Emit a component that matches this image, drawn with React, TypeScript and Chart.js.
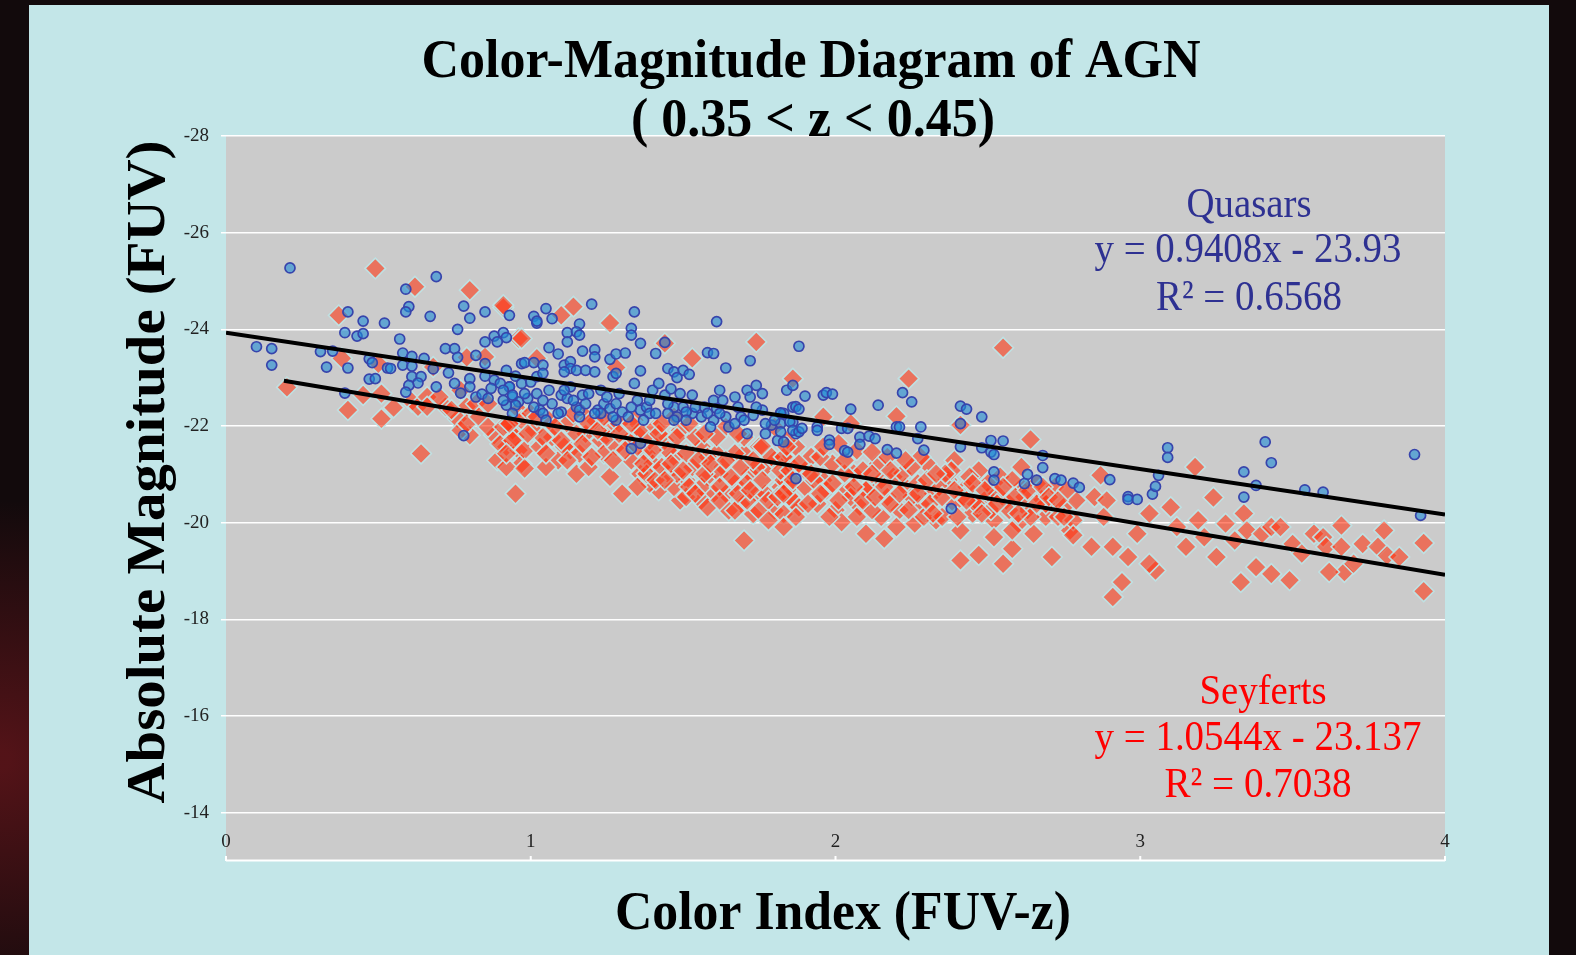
import React, { useEffect, useRef } from 'react';
import { Chart, registerables } from 'chart.js';

Chart.register(...registerables);

const W = 1576;
const H = 955;

const TITLE_LINES = ['Color-Magnitude Diagram of AGN', '( 0.35 < z < 0.45)'];
const X_TITLE = 'Color Index (FUV-z)';
const Y_TITLE = 'Absolute Magnitude (FUV)';
const X_TICKS = [0, 1, 2, 3, 4];
const Y_TICKS = [-28, -26, -24, -22, -20, -18, -16, -14];

const QUASAR_LABELS = ['Quasars', 'y = 0.9408x - 23.93', 'R\u00B2 = 0.6568'];
const SEYFERT_LABELS = ['Seyferts', 'y = 1.0544x - 23.137', 'R\u00B2 = 0.7038'];

const QUASAR_FIT = { slope: 0.9408, intercept: -23.93, xFrom: 0, xTo: 4 };
const SEYFERT_FIT = { slope: 1.0544, intercept: -23.137, xFrom: 0.19, xTo: 4 };

const QUASARS: [number, number][] = [
  [0.21, -25.27], [0.69, -25.09], [0.59, -24.83], [0.60, -24.47], [0.59, -24.36], [0.67, -24.27],
  [0.78, -24.48], [0.80, -24.23], [0.85, -24.36], [0.93, -24.29], [0.40, -24.36], [0.45, -24.17],
  [0.52, -24.13], [0.39, -23.93], [0.43, -23.86], [0.45, -23.91], [0.57, -23.80], [0.76, -24.00],
  [0.85, -23.74], [0.88, -23.86], [0.91, -23.93], [0.92, -23.83], [0.89, -23.74], [0.10, -23.64],
  [0.15, -23.60], [0.15, -23.26], [0.31, -23.54], [0.35, -23.55], [0.33, -23.22], [0.40, -23.20],
  [0.47, -23.39], [0.48, -23.31], [0.53, -23.20], [0.54, -23.19], [0.47, -22.97], [0.49, -22.98],
  [0.39, -22.68], [0.58, -23.51], [0.61, -23.44], [0.58, -23.26], [0.61, -23.24], [0.65, -23.40],
  [0.68, -23.18], [0.61, -23.02], [0.64, -23.02], [0.63, -22.89], [0.60, -22.84], [0.59, -22.70],
  [0.69, -22.81], [0.72, -23.60], [0.75, -23.60], [0.76, -23.42], [0.73, -23.10], [0.75, -22.88],
  [0.77, -22.68], [0.82, -23.46], [0.85, -23.29], [0.80, -22.98], [0.80, -22.81], [0.82, -22.60],
  [0.84, -22.66], [0.86, -22.57], [0.85, -23.03], [0.88, -22.95], [0.90, -22.88], [0.87, -22.78],
  [0.93, -22.81], [0.94, -22.60], [0.96, -22.50], [0.97, -23.29], [0.95, -23.03], [0.78, -21.80],
  [1.05, -24.43], [1.01, -24.27], [1.02, -24.13], [1.02, -24.17], [1.07, -24.22], [1.16, -24.11],
  [1.20, -24.52], [1.34, -24.36], [1.61, -24.16], [1.12, -23.93], [1.15, -23.95], [1.16, -23.88],
  [1.12, -23.74], [1.33, -24.02], [1.33, -23.88], [1.36, -23.71], [1.06, -23.62], [1.09, -23.49],
  [1.17, -23.55], [1.21, -23.58], [1.21, -23.43], [1.26, -23.38], [1.28, -23.49], [1.31, -23.51],
  [1.41, -23.50], [1.44, -23.73], [1.58, -23.52], [1.60, -23.50], [1.72, -23.35], [1.64, -23.20],
  [1.88, -23.65], [0.98, -23.31], [1.01, -23.31], [1.04, -23.26], [1.11, -23.26], [1.13, -23.33],
  [1.13, -23.19], [1.15, -23.15], [1.18, -23.15], [1.21, -23.12], [1.27, -23.02], [1.28, -23.09],
  [1.36, -23.14], [1.45, -23.19], [1.47, -23.12], [1.50, -23.15], [1.52, -23.07], [1.48, -23.00],
  [0.92, -23.15], [0.93, -22.81], [0.94, -22.64], [0.91, -22.74], [0.97, -22.88], [1.00, -22.91],
  [1.02, -23.02], [1.04, -23.09], [1.11, -23.12], [0.95, -22.43], [0.99, -22.57], [1.02, -22.67],
  [1.03, -22.33], [1.06, -22.74], [1.07, -22.46], [1.10, -22.64], [1.12, -22.57], [1.13, -22.81],
  [1.15, -22.39], [1.17, -22.64], [1.19, -22.67], [1.23, -22.74], [1.22, -22.33], [1.24, -22.46],
  [1.26, -22.36], [1.28, -22.46], [1.30, -22.29], [1.32, -22.19], [1.34, -22.88], [1.35, -22.53],
  [1.36, -22.33], [1.38, -22.39], [1.40, -22.74], [1.42, -22.88], [1.44, -22.64], [1.46, -22.77],
  [1.47, -22.39], [1.48, -22.19], [1.50, -22.39], [1.53, -22.64], [1.53, -22.26], [1.56, -22.19],
  [1.57, -22.39], [1.60, -22.53], [1.61, -22.36], [1.62, -22.74], [1.63, -22.53], [1.64, -22.19],
  [1.65, -21.98], [1.68, -22.39], [1.69, -22.19], [1.71, -22.74], [1.72, -22.60], [1.73, -22.22],
  [1.74, -22.84], [1.76, -22.67], [1.76, -22.33], [1.77, -21.84], [1.79, -22.02], [1.81, -21.70],
  [1.82, -22.26], [1.84, -22.74], [1.86, -22.08], [1.86, -22.39], [1.87, -21.84], [1.33, -21.53],
  [1.36, -21.64], [1.87, -20.91], [0.92, -22.43], [1.04, -22.26], [1.10, -22.29], [1.16, -22.33],
  [1.23, -22.26], [1.28, -22.12], [1.39, -22.26], [1.45, -22.26], [1.51, -22.29], [1.60, -22.12],
  [1.67, -22.05], [1.71, -21.84], [1.77, -22.05], [1.82, -22.05],
  [0.91, -22.53], [0.94, -22.26], [0.98, -22.67], [1.01, -22.39], [1.04, -22.53], [1.05, -22.12],
  [1.09, -22.26], [1.11, -22.74], [1.14, -22.53], [1.16, -22.19], [1.18, -22.46], [1.21, -22.26],
  [1.25, -22.60], [1.27, -22.19], [1.29, -22.67], [1.33, -22.39], [1.37, -22.12], [1.39, -22.53],
  [1.41, -22.26], [1.45, -22.46], [1.47, -22.12], [1.49, -22.67], [1.51, -22.12], [1.54, -22.39],
  [1.58, -22.26], [1.59, -21.98], [1.62, -22.26], [1.67, -22.60], [1.70, -22.12], [1.74, -22.39],
  [1.80, -22.12], [1.83, -22.26],
  [1.86, -22.84], [1.90, -22.62], [1.96, -22.64], [1.97, -22.69], [1.99, -22.66], [1.87, -22.40],
  [1.88, -22.35], [2.05, -22.35], [2.14, -22.43], [1.82, -22.27], [1.85, -22.09], [1.86, -21.91],
  [1.88, -21.88], [1.89, -21.95], [1.82, -21.88], [1.83, -21.67], [1.94, -21.98], [1.94, -21.91],
  [1.98, -21.71], [1.98, -21.62], [2.02, -21.95], [2.04, -21.95], [2.03, -21.49], [2.04, -21.46],
  [2.08, -21.77], [2.08, -21.62], [2.11, -21.79], [2.13, -21.74], [2.17, -21.51], [2.20, -21.44],
  [2.20, -21.98], [2.21, -21.98], [2.22, -22.69], [2.25, -22.50], [2.28, -21.98], [2.27, -21.74],
  [2.29, -21.50], [2.38, -20.29], [2.41, -22.41], [2.43, -22.35], [2.48, -22.19], [2.41, -22.05],
  [2.41, -21.57], [2.48, -21.55], [2.51, -21.70], [2.55, -21.69], [2.51, -21.46], [2.52, -21.41],
  [2.52, -21.05], [2.52, -20.88], [2.63, -21.00], [2.62, -20.81], [2.66, -20.88], [2.68, -21.39],
  [2.68, -21.14], [2.72, -20.91], [2.78, -20.82], [2.80, -20.73], [2.74, -20.88],
  [2.90, -20.89], [2.96, -20.54], [2.96, -20.48], [2.99, -20.48], [3.04, -20.59], [3.05, -20.75],
  [3.06, -20.98], [3.09, -21.55], [3.09, -21.35], [3.34, -21.05], [3.38, -20.77], [3.34, -20.53],
  [3.41, -21.67], [3.43, -21.24], [3.54, -20.68], [3.60, -20.63], [3.90, -21.41], [3.92, -20.15],
];

const SEYFERTS: [number, number][] = [
  [0.49, -25.26], [0.62, -24.88], [0.80, -24.81], [0.91, -24.45], [0.37, -24.29], [0.38, -23.40],
  [0.50, -23.29], [0.68, -23.22], [0.79, -23.42], [0.85, -23.43], [0.96, -23.81], [0.20, -22.80],
  [0.45, -22.64], [0.51, -22.67], [0.40, -22.33], [0.51, -22.15], [0.55, -22.38], [0.61, -22.50],
  [0.63, -22.40], [0.66, -22.60], [0.72, -22.40], [0.76, -22.15], [0.79, -22.40], [0.80, -21.81],
  [0.82, -22.46], [0.86, -22.46], [0.88, -21.81], [0.92, -21.57], [0.89, -21.29], [0.94, -21.91],
  [0.96, -21.50], [0.64, -21.43], [0.77, -22.74],
  [0.66, -22.40], [0.70, -22.60], [0.74, -22.33], [0.77, -21.91], [0.79, -22.05], [0.83, -22.19],
  [0.86, -21.98], [0.90, -21.63], [0.93, -22.05], [0.95, -21.77], [0.97, -21.22], [0.92, -21.15],
  [0.96, -22.33],
  [1.14, -24.47], [1.10, -24.29], [1.26, -24.13], [0.91, -24.50], [0.97, -23.81], [1.44, -23.71],
  [1.53, -23.40], [1.74, -23.74], [1.28, -23.21], [1.86, -22.98], [1.02, -23.40],
  [0.91, -21.98], [0.94, -21.70], [0.98, -21.50], [0.98, -21.12], [0.95, -20.60], [1.01, -21.91],
  [1.03, -21.57], [1.07, -21.77], [1.09, -21.29], [1.12, -22.05], [1.13, -21.50], [1.16, -21.43],
  [1.18, -21.84], [1.21, -22.12], [1.23, -21.70], [1.24, -21.43], [1.26, -21.98], [1.28, -21.57],
  [1.30, -20.60], [1.33, -21.29], [1.35, -21.84], [1.36, -21.01], [1.38, -21.43], [1.40, -21.22],
  [1.42, -20.67], [1.44, -21.70], [1.45, -21.01], [1.47, -21.36], [1.49, -21.91], [1.51, -20.88],
  [1.53, -21.15], [1.56, -21.57], [1.58, -20.95], [1.60, -20.60], [1.61, -21.43], [1.63, -21.15],
  [1.67, -20.81], [1.69, -20.39], [1.70, -21.43], [1.72, -21.01], [1.74, -20.60], [1.75, -21.57],
  [1.77, -21.15], [1.80, -20.25], [1.82, -20.74], [1.84, -21.29], [1.86, -20.46], [1.87, -21.57],
  [0.92, -21.43], [1.05, -21.15], [1.15, -21.01], [1.19, -21.15], [1.26, -20.95], [1.39, -20.81],
  [1.49, -20.46], [1.56, -20.46], [1.65, -20.25], [1.73, -20.18], [0.97, -22.12], [1.06, -22.12],
  [1.17, -22.26], [1.34, -22.12], [1.47, -22.19], [1.64, -21.98], [1.80, -21.98], [1.70, -19.63],
  [0.93, -22.05], [1.00, -22.26], [1.04, -21.77], [1.11, -21.57], [1.15, -21.84], [1.19, -22.05],
  [1.25, -21.77], [1.29, -22.05], [1.32, -21.70], [1.36, -21.91], [1.39, -21.70], [1.41, -21.98],
  [1.45, -21.50], [1.48, -21.77], [1.51, -21.43], [1.54, -21.77], [1.58, -21.36], [1.61, -21.77],
  [1.62, -21.01], [1.67, -21.43], [1.70, -21.77], [1.71, -20.81], [1.74, -21.15], [1.76, -21.57],
  [1.77, -20.60], [1.80, -21.29], [1.83, -20.88], [1.84, -21.70], [1.86, -21.15], [1.35, -20.74],
  [1.38, -21.01], [1.41, -20.88], [1.47, -20.74], [1.48, -21.01], [1.51, -20.53], [1.56, -20.74],
  [1.58, -20.32], [1.64, -20.60], [1.67, -20.25], [1.71, -20.46], [1.75, -20.25], [1.83, -20.18],
  [1.85, -20.53],
  [0.99, -21.84], [1.02, -22.19], [1.05, -21.43], [1.08, -21.98], [1.10, -21.70], [1.12, -21.29],
  [1.14, -22.26], [1.17, -21.63], [1.20, -21.36], [1.22, -21.91], [1.24, -22.19], [1.27, -21.29],
  [1.29, -21.84], [1.31, -21.50], [1.33, -22.05], [1.35, -21.57], [1.37, -21.22], [1.40, -21.50],
  [1.42, -21.84], [1.43, -21.15], [1.44, -20.88], [1.46, -21.22], [1.50, -21.08], [1.52, -20.74],
  [1.55, -21.29], [1.57, -21.01], [1.59, -21.22], [1.62, -20.74], [1.64, -21.29], [1.66, -20.95],
  [1.68, -20.60], [1.69, -21.15], [1.72, -20.67], [1.73, -21.29], [1.76, -20.88], [1.78, -20.46],
  [1.79, -21.36], [1.81, -20.53], [1.82, -21.08], [1.85, -20.74], [1.88, -20.32], [1.78, -20.05],
  [1.62, -20.46], [1.54, -20.60], [1.68, -21.84], [1.57, -21.84], [1.52, -22.05], [1.43, -22.05],
  [2.55, -23.62], [2.24, -22.98], [2.20, -22.20], [2.41, -22.02], [2.64, -21.72], [2.39, -21.29],
  [2.61, -21.15], [1.96, -22.19], [2.05, -22.05],
  [1.83, -21.36], [1.85, -21.08], [1.83, -20.60], [1.83, -19.91], [1.87, -20.12], [1.90, -20.74],
  [1.92, -21.36], [1.94, -20.39], [1.96, -20.88], [1.99, -21.22], [2.00, -20.26], [2.02, -20.01],
  [2.04, -20.67], [2.06, -21.02], [2.08, -20.33], [2.10, -19.77], [2.11, -20.74], [2.14, -21.22],
  [2.15, -20.12], [2.16, -19.67], [2.17, -20.53], [2.19, -20.95], [2.21, -20.26], [2.23, -20.74],
  [2.26, -19.98], [2.28, -20.39], [2.30, -21.22], [2.32, -20.60], [2.33, -20.05], [2.37, -20.88],
  [2.39, -20.39], [2.41, -19.22], [2.43, -20.74], [2.45, -20.19], [2.47, -19.33], [2.47, -21.08],
  [2.50, -20.53], [2.52, -20.05], [2.54, -20.95], [2.55, -19.15], [2.56, -20.46], [2.58, -19.46],
  [2.60, -19.98], [2.61, -20.74], [2.63, -20.26], [2.65, -19.77], [2.67, -20.53], [2.69, -20.12],
  [2.71, -19.29], [2.72, -20.74], [2.75, -20.33], [2.77, -19.84], [2.79, -20.46], [1.90, -21.08],
  [2.07, -21.50], [2.28, -21.36], [2.47, -20.39],
  [1.84, -21.57], [1.86, -20.88], [1.88, -21.22], [1.91, -20.39], [1.93, -20.88], [1.95, -21.36],
  [1.97, -20.67], [1.98, -20.12], [2.03, -21.02], [2.05, -20.53], [2.07, -20.12], [2.09, -21.08],
  [2.10, -20.67], [2.12, -20.26], [2.15, -20.88], [2.17, -21.36], [2.18, -20.39], [2.20, -19.91],
  [2.22, -21.02], [2.25, -20.53], [2.27, -20.81], [2.29, -20.12], [2.31, -20.39], [2.34, -20.74],
  [2.35, -20.12], [2.38, -21.08], [2.42, -20.53], [2.44, -20.95], [2.46, -20.39], [2.50, -20.81],
  [2.51, -20.26], [2.53, -20.60], [2.57, -20.26], [2.58, -20.88], [2.62, -20.53], [2.64, -20.12],
  [2.66, -20.81], [2.69, -20.39], [2.73, -20.12], [2.76, -20.67], [2.78, -20.05], [2.58, -19.84],
  [2.52, -19.70], [2.41, -19.84],
  [1.92, -21.01], [1.95, -20.60], [1.99, -20.81], [2.01, -20.46], [2.03, -21.29], [2.06, -20.74],
  [2.09, -20.46], [2.12, -21.01], [2.13, -20.53], [2.16, -20.74], [2.18, -21.08], [2.21, -20.60],
  [2.24, -20.26], [2.25, -21.15], [2.27, -20.60], [2.30, -20.88], [2.32, -20.19], [2.35, -20.53],
  [2.36, -21.01], [2.39, -20.67], [2.40, -20.12], [2.43, -20.46], [2.45, -20.81], [2.48, -20.19],
  [2.49, -20.67], [2.53, -20.39], [2.55, -20.74], [2.59, -20.53], [2.60, -20.19], [2.63, -20.67],
  [2.66, -20.39], [2.68, -20.74], [2.70, -20.53], [2.73, -20.46], [1.96, -21.57], [2.01, -21.64],
  [2.12, -21.46], [2.23, -21.29], [2.33, -21.01],
  [3.18, -21.15], [3.24, -20.52], [2.87, -20.98], [3.34, -20.19], [3.66, -19.94], [3.80, -19.84],
  [3.93, -19.58], [3.93, -18.58], [2.91, -18.46], [2.94, -18.77], [3.33, -18.77], [3.43, -18.94],
  [3.49, -18.81], [3.67, -18.98], [3.62, -18.98], [2.84, -19.50], [2.78, -19.74], [2.75, -20.12],
  [2.85, -20.53], [2.89, -20.46], [2.88, -20.12], [2.91, -19.50], [2.96, -19.29], [2.99, -19.77],
  [3.03, -20.19], [3.05, -19.01], [3.03, -19.15], [3.10, -20.32], [3.12, -19.91], [3.15, -19.50],
  [3.19, -20.05], [3.21, -19.70], [3.25, -19.29], [3.28, -19.98], [3.31, -19.63], [3.35, -19.84],
  [3.40, -19.77], [3.43, -19.91], [3.46, -19.91], [3.50, -19.56], [3.53, -19.36], [3.57, -19.77],
  [3.60, -19.70], [3.61, -19.50], [3.66, -19.50], [3.70, -19.15], [3.73, -19.56], [3.78, -19.50],
  [3.81, -19.32], [3.85, -19.29], [3.38, -19.08],
];

const SERIF = '"Liberation Serif", "Times New Roman", serif';

function fitLine(fit: { slope: number; intercept: number; xFrom: number; xTo: number }) {
  return [fit.xFrom, fit.xTo].map((x) => ({ x, y: fit.slope * x + fit.intercept }));
}

function drawFitted(
  ctx: CanvasRenderingContext2D,
  text: string,
  cx: number,
  baseline: number,
  font: string,
  width: number,
  color: string,
  rotate = false
) {
  ctx.save();
  ctx.font = font;
  const w = ctx.measureText(text).width;
  const s = width / w;
  ctx.translate(cx, baseline);
  if (rotate) ctx.rotate(-Math.PI / 2);
  ctx.scale(s, 1);
  ctx.textAlign = 'center';
  ctx.textBaseline = 'alphabetic';
  ctx.fillStyle = color;
  ctx.fillText(text, 0, 0);
  ctx.restore();
}

const decorPlugin = {
  id: 'decor',
  beforeDraw(chart: any) {
    const { ctx, chartArea: a } = chart;
    ctx.save();
    ctx.fillStyle = '#120a0c';
    ctx.fillRect(0, 0, W, H);
    const g = ctx.createRadialGradient(0, 760, 10, 0, 760, 260);
    g.addColorStop(0, 'rgba(90,20,25,0.9)');
    g.addColorStop(1, 'rgba(90,20,25,0)');
    ctx.fillStyle = g;
    ctx.fillRect(0, 0, W, H);
    ctx.fillStyle = '#c3e6e8';
    ctx.fillRect(29, 5, 1520, H - 5);
    ctx.fillStyle = '#cbcbcb';
    ctx.fillRect(a.left, a.top, a.right - a.left, a.bottom - a.top);
    ctx.restore();
  },
  afterDraw(chart: any) {
    const { ctx, chartArea: a } = chart;
    const xs = chart.scales.x;
    ctx.save();
    ctx.strokeStyle = '#ffffff';
    ctx.lineWidth = 2;
    ctx.beginPath();
    ctx.moveTo(a.left, a.bottom - 0.5);
    ctx.lineTo(a.right, a.bottom - 0.5);
    X_TICKS.forEach((v) => {
      const px = xs.getPixelForValue(v);
      ctx.moveTo(px, a.bottom);
      ctx.lineTo(px, a.bottom - 5);
    });
    ctx.stroke();
    ctx.fillStyle = '#222222';
    ctx.font = `19px ${SERIF}`;
    ctx.textAlign = 'center';
    ctx.textBaseline = 'alphabetic';
    X_TICKS.forEach((v) => {
      ctx.fillText(String(v), xs.getPixelForValue(v), 847);
    });
    ctx.restore();

    const bold = `bold 55px ${SERIF}`;
    drawFitted(ctx, TITLE_LINES[0], 811, 77, bold, 779, '#000000');
    drawFitted(ctx, TITLE_LINES[1], 813, 136, bold, 364, '#000000');
    drawFitted(ctx, X_TITLE, 843, 929, bold, 456, '#000000');
    drawFitted(ctx, Y_TITLE, 164, 472, bold, 663, '#000000', true);

    const reg = `42px ${SERIF}`;
    const blue = '#2e3192';
    drawFitted(ctx, QUASAR_LABELS[0], 1249, 217, reg, 125, blue);
    drawFitted(ctx, QUASAR_LABELS[1], 1248, 262, reg, 307, blue);
    drawFitted(ctx, QUASAR_LABELS[2], 1249, 310, reg, 186, blue);
    const red = '#ff0000';
    drawFitted(ctx, SEYFERT_LABELS[0], 1263, 704, reg, 127, red);
    drawFitted(ctx, SEYFERT_LABELS[1], 1258, 750, reg, 327, red);
    drawFitted(ctx, SEYFERT_LABELS[2], 1258, 797, reg, 187, red);
  },
};

export default function App() {
  const ref = useRef<HTMLCanvasElement | null>(null);

  useEffect(() => {
    document.body.style.margin = '0';
    const canvas = ref.current;
    if (!canvas) return;
    const chart = new Chart(canvas, {
      type: 'scatter',
      data: {
        datasets: [
          {
            label: 'Quasar trend',
            data: fitLine(QUASAR_FIT),
            showLine: true,
            borderColor: '#000000',
            borderWidth: 4,
            pointRadius: 0,
            fill: false,
          },
          {
            label: 'Seyfert trend',
            data: fitLine(SEYFERT_FIT),
            showLine: true,
            borderColor: '#000000',
            borderWidth: 4,
            pointRadius: 0,
            fill: false,
          },
          {
            label: 'Quasars',
            data: QUASARS.map(([x, y]) => ({ x, y })),
            pointStyle: 'circle',
            pointRadius: 5,
            backgroundColor: 'rgba(30,140,215,0.6)',
            borderColor: 'rgb(55,68,172)',
            borderWidth: 1.7,
          },
          {
            label: 'Seyferts',
            data: SEYFERTS.map(([x, y]) => ({ x, y })),
            pointStyle: 'rectRot',
            pointRadius: 10.3,
            backgroundColor: 'rgba(255,55,20,0.6)',
            borderColor: 'rgba(190,228,230,0.95)',
            borderWidth: 1.6,
          },
        ],
      },
      options: {
        responsive: false,
        maintainAspectRatio: false,
        animation: false,
        events: [],
        layout: { padding: { left: 126, top: 136, right: 131, bottom: 94 } },
        plugins: {
          legend: { display: false },
          title: { display: false },
          tooltip: { enabled: false },
        },
        scales: {
          x: {
            type: 'linear',
            display: false,
            min: 0,
            max: 4,
          },
          y: {
            type: 'linear',
            reverse: true,
            min: -28,
            max: -13,
            afterFit: (s: any) => {
              s.width = 100;
            },
            afterBuildTicks: (s: any) => {
              s.ticks = Y_TICKS.map((v) => ({ value: v }));
            },
            ticks: {
              padding: 12,
              color: '#222222',
              font: { family: SERIF, size: 19 },
              callback: (v: any) => String(v),
            },
            grid: {
              color: '#ffffff',
              lineWidth: 1.5,
              drawTicks: true,
              tickLength: 5,
              tickColor: '#ffffff',
            },
            border: { display: false },
          },
        },
      },
      plugins: [decorPlugin],
    });
    return () => chart.destroy();
  }, []);

  return (
    <div style={{ position: 'fixed', left: 0, top: 0, width: W, height: H }}>
      <canvas ref={ref} width={W} height={H} style={{ display: 'block', width: W, height: H }} />
    </div>
  );
}
